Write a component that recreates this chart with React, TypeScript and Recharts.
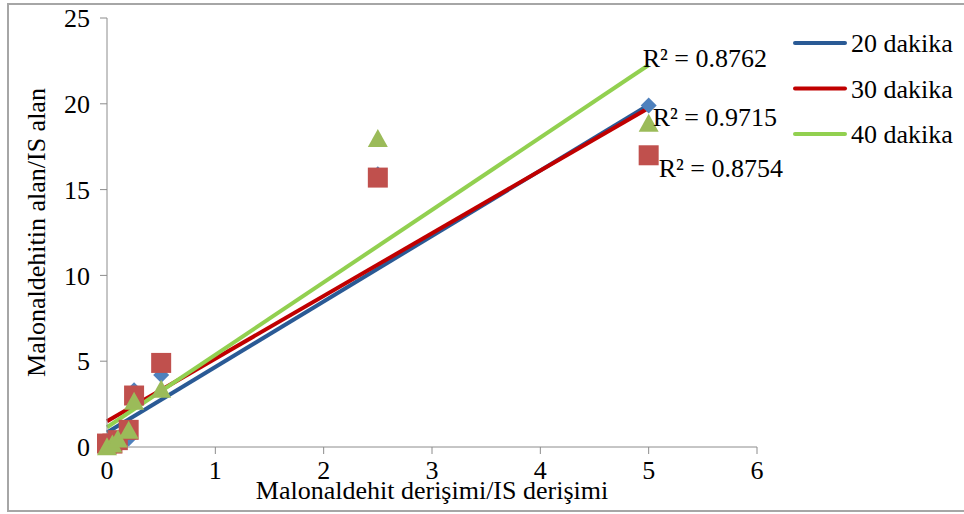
import { ComposedChart, Scatter, Line, XAxis, YAxis, Legend } from 'recharts'

// konsantrasyon oranlari (x)
const concentrations = [0, 0.05, 0.1, 0.2, 0.25, 0.5, 2.5, 5]

// alan oranlari (y), her sure icin
const area20 = [0.1, 0.2, 0.3, 0.5, 3.3, 4.2, 15.9, 19.9]
const area30 = [0.2, 0.2, 0.4, 1.0, 3.0, 4.9, 15.7, 17.0]
const area40 = [0.05, 0.2, 0.5, 1.0, 2.7, 3.4, 18.0, 18.9]

// dogrusal trend cizgileri (uc noktalar)
const trendX = [0, 5]
const trend20 = [0.85, 19.93]
const trend30 = [1.5, 19.76]
const trend40 = [1.15, 22.26]

const seriesNames = ['20 dakika', '30 dakika', '40 dakika']
const r2Labels = ['R² = 0.9715', 'R² = 0.8754', 'R² = 0.8762']

const xTicks = [0, 1, 2, 3, 4, 5, 6]
const yTicks = [0, 5, 10, 15, 20, 25]

const FONT = 'Liberation Serif, Times New Roman, serif'
const AXIS = '#8c8c8c'

const toPoints = (xs: number[], ys: number[]) => xs.map((x, i) => ({ x, y: ys[i] }))

const Diamond = ({ cx, cy }: any) => (
  <polygon points={`${cx},${cy - 8} ${cx + 8},${cy} ${cx},${cy + 8} ${cx - 8},${cy}`} fill="#4F81BD" />
)
const Square = ({ cx, cy }: any) => <rect x={cx - 10} y={cy - 10} width={20} height={20} fill="#C0504D" />
const Triangle = ({ cx, cy }: any) => (
  <polygon points={`${cx},${cy - 9} ${cx + 10},${cy + 9} ${cx - 10},${cy + 9}`} fill="#9BBB59" />
)

const r2Label = (text: string, dx: number, dy: number) => (props: any) => {
  if (props.index !== 1) return <g />
  return (
    <text x={props.x + dx} y={props.y + dy} fontFamily={FONT} fontSize={26} fill="#000">
      {text}
    </text>
  )
}

const renderLegend = (props: any) => {
  const items = (props.payload || []).filter((p: any) => seriesNames.includes(p.value))
  return (
    <svg width={170} height={140} style={{ display: 'block' }}>
      {items.map((p: any, i: number) => {
        const y = 23 + i * 45.5
        return (
          <g key={p.value}>
            <line x1={2} x2={52} y1={y} y2={y} stroke={p.color} strokeWidth={4} strokeLinecap="round" />
            <text x={58} y={y + 9} fontFamily={FONT} fontSize={26} fill="#000">
              {p.value}
            </text>
          </g>
        )
      })}
    </svg>
  )
}

export default function App() {
  return (
    <div style={{ position: 'absolute', left: 0, top: 0, width: 964, height: 514, overflow: 'hidden', background: '#fff' }}>
      <div
        style={{
          position: 'absolute',
          left: 7,
          top: 3,
          width: 1000,
          height: 509,
          border: '2px solid #a6a6a6',
          boxSizing: 'border-box',
        }}
      />
      <ComposedChart
        width={964}
        height={514}
        margin={{ top: 18, right: 207, left: 0, bottom: 0 }}
        style={{ position: 'absolute', left: 0, top: 0 }}
      >
        <XAxis
          type="number"
          dataKey="x"
          domain={[0, 6]}
          ticks={xTicks}
          height={67}
          stroke={AXIS}
          tickSize={7}
          tickMargin={7}
          tick={{ fontSize: 26, fill: '#000', fontFamily: FONT }}
          label={{
            content: ({ viewBox }: any) => (
              <text
                x={viewBox.x + viewBox.width / 2}
                y={499}
                textAnchor="middle"
                fontFamily={FONT}
                fontSize={26}
                fill="#000"
              >
                Malonaldehit derişimi/IS derişimi
              </text>
            ),
          }}
        />
        <YAxis
          type="number"
          domain={[0, 25]}
          ticks={yTicks}
          width={107}
          stroke={AXIS}
          tickSize={7}
          tickMargin={10}
          tick={{ fontSize: 26, fill: '#000', fontFamily: FONT }}
          label={{
            content: ({ viewBox }: any) => {
              const cx = 45
              const cy = viewBox.y + viewBox.height / 2
              return (
                <text
                  x={cx}
                  y={cy}
                  transform={`rotate(-90, ${cx}, ${cy})`}
                  textAnchor="middle"
                  fontFamily={FONT}
                  fontSize={26}
                  fill="#000"
                >
                  Malonaldehitin alan/IS alan
                </text>
              )
            },
          }}
        />
        <Legend
          layout="horizontal"
          verticalAlign="middle"
          align="center"
          content={renderLegend}
          wrapperStyle={{ left: 793, top: 20, width: 170 }}
        />
        <Scatter
          name="s20"
          data={toPoints(concentrations, area20)}
          dataKey="y"
          shape={(p: any) => <Diamond {...p} />}
          legendType="none"
          isAnimationActive={false}
        />
        <Scatter
          name="s30"
          data={toPoints(concentrations, area30)}
          dataKey="y"
          shape={(p: any) => <Square {...p} />}
          legendType="none"
          isAnimationActive={false}
        />
        <Scatter
          name="s40"
          data={toPoints(concentrations, area40)}
          dataKey="y"
          shape={(p: any) => <Triangle {...p} />}
          legendType="none"
          isAnimationActive={false}
        />
        <Line
          name={seriesNames[0]}
          data={toPoints(trendX, trend20)}
          dataKey="y"
          stroke="#2A5A95"
          strokeWidth={4}
          dot={false}
          legendType="line"
          label={r2Label(r2Labels[0], 4, 21)}
          isAnimationActive={false}
        />
        <Line
          name={seriesNames[1]}
          data={toPoints(trendX, trend30)}
          dataKey="y"
          stroke="#C00000"
          strokeWidth={4}
          dot={false}
          legendType="line"
          label={r2Label(r2Labels[1], 10, 69)}
          isAnimationActive={false}
        />
        <Line
          name={seriesNames[2]}
          data={toPoints(trendX, trend40)}
          dataKey="y"
          stroke="#92D050"
          strokeWidth={4}
          dot={false}
          legendType="line"
          label={r2Label(r2Labels[2], -6, 2)}
          isAnimationActive={false}
        />
      </ComposedChart>
    </div>
  )
}
